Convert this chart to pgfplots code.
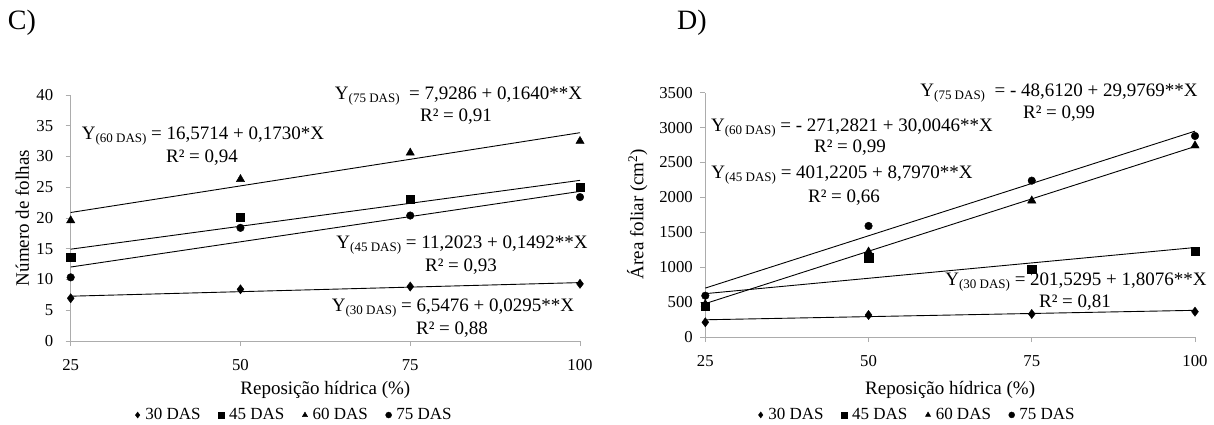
\documentclass[border=0pt]{standalone}
\usepackage{fontspec}
\setmainfont{Liberation Serif}
\usepackage{pgfplots}
\pgfplotsset{compat=1.18}
\newcommand{\fs}[1]{\fontsize{#1}{#1}\selectfont}
\newcommand{\sub}[1]{\raisebox{-0.35ex}{\fs{13}#1}}
\pgfplotsset{
  panel/.style={
    scale only axis,
    axis lines*=left,
    axis line style={gray!65, line width=0.9pt, -},
    tick style={gray!65, line width=0.9pt},
    tick align=outside,
    major tick length=5pt,
    xmin=25, xmax=100,
    xtick={25,50,75,100},
    /pgf/number format/assume math mode=true,
    /pgf/number format/1000 sep={},
    tick label style={font=\fs{16.7}, black},
    xticklabel style={yshift=-10pt},
    label style={font=\fs{19}},
    legend columns=4,
    legend cell align=left,
    legend image code/.code={\path (0pt,0pt) (9pt,0pt); \draw[##1, mark size=3pt] plot coordinates {(3.5pt,0pt)};},
    legend style={draw=none, fill=none, font=\fs{17}, anchor=center,
      /tikz/every even column/.append style={column sep=15pt},
      /tikz/every odd column/.append style={column sep=0pt}},
    clip=false,
  },
  fitline/.style={black, line width=0.9pt, no marks, forget plot},
  s30/.style={black, only marks, mark=diamond*, mark size=4.6pt},
  s45/.style={black, only marks, mark=square*, mark size=4.2pt},
  s60/.style={black, only marks, mark=triangle*, mark size=4.8pt},
  s75/.style={black, only marks, mark=*, mark size=3.8pt},
}
\begin{document}
\begin{tikzpicture}[x=1pt,y=1pt]
\path[use as bounding box] (0,0) rectangle (1214,424);
% ---------- C ----------
\begin{axis}[panel,
  at={(70.7pt,83pt)}, anchor=origin,
  width=509.3pt, height=246pt,
  ymin=0, ymax=40, ytick={0,5,...,40},
  yticklabel style={xshift=-9pt},
  xlabel={Reposição hídrica (\%)},
  xlabel style={at={(axis description cs:0.5,-0.199)}, anchor=center},
  ylabel={Número de folhas},
  ylabel style={at={(axis description cs:-0.095,0.5)}, anchor=center},
  legend style={at={(0.438,-0.301)}},
]
\addplot[fitline] coordinates {(25,7.285) (100,9.498)};
\addplot[fitline] coordinates {(25,14.932) (100,26.122)};
\addplot[fitline] coordinates {(25,20.896) (100,33.871)};
\addplot[fitline] coordinates {(25,12.029) (100,24.329)};
\addplot[s30] coordinates {(25,6.95) (50,8.4) (75,8.85) (100,9.3)};
\addlegendentry{30 DAS}
\addplot[s45] coordinates {(25,13.6) (50,20.1) (75,23.1) (100,25.0)};
\addlegendentry{45 DAS}
\addplot[s60] coordinates {(25,19.6) (50,26.3) (75,30.6) (100,32.5)};
\addlegendentry{60 DAS}
\addplot[s75] coordinates {(25,10.35) (50,18.4) (75,20.4) (100,23.4)};
\addlegendentry{75 DAS}
\end{axis}
% ---------- D ----------
\begin{axis}[panel,
  at={(705.3pt,87pt)}, anchor=origin,
  width=489.7pt, height=244.3pt,
  ymin=0, ymax=3500, ytick={0,500,...,3500},
  yticklabel style={xshift=-4pt},
  xlabel={Reposição hídrica (\%)},
  xlabel style={at={(axis description cs:0.5,-0.217)}, anchor=center},
  ylabel={Área foliar (cm\textsuperscript{2})},
  ylabel style={at={(axis description cs:-0.139,0.503)}, anchor=center},
  legend style={at={(0.432,-0.319)}},
]
\addplot[fitline] coordinates {(25,246.72) (100,382.29)};
\addplot[fitline] coordinates {(25,621.14) (100,1281.92)};
\addplot[fitline] coordinates {(25,478.83) (100,2729.18)};
\addplot[fitline] coordinates {(25,700.81) (100,2949.08)};
\addplot[s30] coordinates {(25,211) (50,315) (75,330) (100,363)};
\addlegendentry{30 DAS}
\addplot[s45] coordinates {(25,444) (50,1136) (75,974) (100,1232)};
\addlegendentry{45 DAS}
\addplot[s60] coordinates {(25,470) (50,1222) (75,1953) (100,2742)};
\addlegendentry{60 DAS}
\addplot[s75] coordinates {(25,592) (50,1591) (75,2240) (100,2880)};
\addlegendentry{75 DAS}
\end{axis}
% ---------- titles ----------
\node[font=\fs{28}] at (22,401) {C)};
\node[font=\fs{28}] at (692,401) {D)};
% ---------- equations C ----------
\begin{scope}[every node/.style={font=\fs{19}, inner sep=0pt}]
\node at (203,288) {Y\sub{(60 DAS)} = 16,5714 + 0,1730*X};
\node at (202,266) {R² = 0,94};
\node at (458.5,328) {Y\sub{(75 DAS)}\ \ = 7,9286 + 0,1640**X};
\node at (456,307) {R² = 0,91};
\node at (462,179) {Y\sub{(45 DAS)} = 11,2023 + 0,1492**X};
\node at (461,157) {R² = 0,93};
\node at (453,116) {Y\sub{(30 DAS)} = 6,5476 + 0,0295**X};
\node at (452,94) {R² = 0,88};
% ---------- equations D ----------
\node at (852,296) {Y\sub{(60 DAS)} = - 271,2821 + 30,0046**X};
\node at (850,276) {R² = 0,99};
\node at (842,249) {Y\sub{(45 DAS)} = 401,2205 + 8,7970**X};
\node at (844,226) {R² = 0,66};
\node at (1059,331) {Y\sub{(75 DAS)}\ \ = - 48,6120 + 29,9769**X};
\node at (1059,310) {R² = 0,99};
\node at (1076,142) {Y\sub{(30 DAS)} = 201,5295 + 1,8076**X};
\node at (1075,121) {R² = 0,81};
\end{scope}
\end{tikzpicture}
\end{document}
